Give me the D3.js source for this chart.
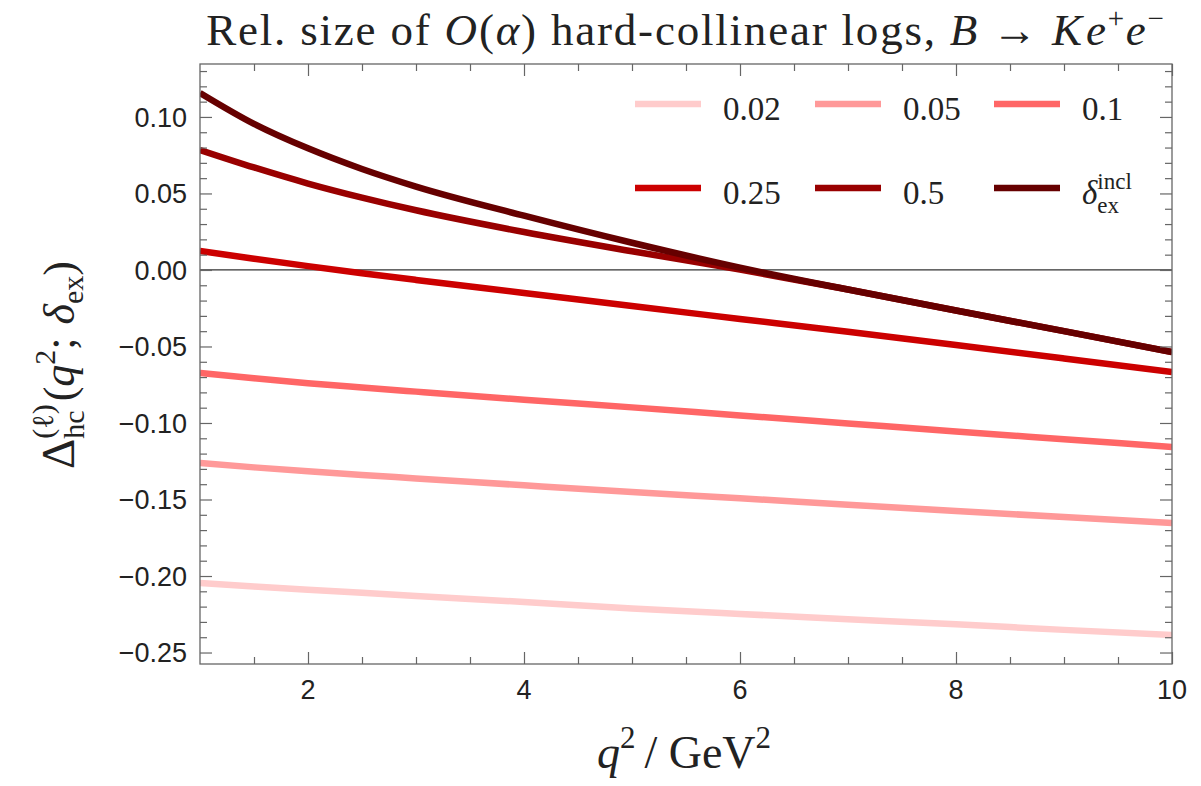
<!DOCTYPE html>
<html>
<head>
<meta charset="utf-8">
<script src="https://cdn.jsdelivr.net/npm/d3@7"></script>
<style>
  html, body { margin: 0; padding: 0; background: #fff; }
  svg { display: block; }
</style>
</head>
<body>
<svg id="chart" width="1201" height="786"></svg>
<script>
// q^2 sampling grid (GeV^2)
const q2 = [1, 1.5, 2, 2.5, 3, 4, 5, 6, 7, 8, 9, 10];

// Relative size of hard-collinear logs for each photon-energy cut δ_ex
const delta002 = [-0.2046, -0.2069, -0.2090, -0.2110, -0.2130, -0.2170, -0.2212, -0.2248, -0.2282, -0.2316, -0.2352, -0.2386];
const delta005 = [-0.1261, -0.1290, -0.1316, -0.1340, -0.1362, -0.1407, -0.1451, -0.1492, -0.1534, -0.1575, -0.1615, -0.1654];
const delta010 = [-0.0673, -0.0708, -0.0740, -0.0768, -0.0795, -0.0848, -0.0898, -0.0951, -0.1003, -0.1055, -0.1106, -0.1157];
const delta025 = [0.0124, 0.0073, 0.0025, -0.0021, -0.0065, -0.0150, -0.0236, -0.0320, -0.0404, -0.0490, -0.0578, -0.0667];
const delta050 = [0.0784, 0.0670, 0.0565, 0.0473, 0.0390, 0.0248, 0.0122, 0.0003, -0.0128, -0.0265, -0.0400, -0.0536];
const deltaIncl = [0.1157, 0.0955, 0.0795, 0.0660, 0.0545, 0.0355, 0.0178, 0.0015, -0.0128, -0.0265, -0.0400, -0.0536];

const seriesNames = ["0.02", "0.05", "0.1", "0.25", "0.5", "incl"];
const seriesValues = [delta002, delta005, delta010, delta025, delta050, deltaIncl];
const seriesColors = ["#ffcccc", "#ff9999", "#ff6666", "#cc0000", "#990000", "#660000"];

const yTickValues = [-0.25, -0.20, -0.15, -0.10, -0.05, 0.00, 0.05, 0.10];
const xTickValues = [2, 4, 6, 8, 10];

const svg = d3.select("#chart");
const plotLeft = 200, plotRight = 1172, plotTop = 64, plotBottom = 664;

const x = d3.scaleLinear().domain([1, 10]).range([plotLeft, plotRight]);
const y = d3.scaleLinear().domain([-0.2575, 0.1346]).range([plotBottom, plotTop]);

const serif = "'Liberation Serif', 'DejaVu Serif', serif";
const sans = "'Liberation Sans', Arial, sans-serif";
const frameColor = "#666";

// ---- curves ----
const line = d3.line()
  .x(d => x(d[0]))
  .y(d => y(d[1]))
  .curve(d3.curveMonotoneX);

svg.append("clipPath").attr("id", "plotclip")
  .append("rect").attr("x", plotLeft).attr("y", plotTop)
  .attr("width", plotRight - plotLeft).attr("height", plotBottom - plotTop);

// zero reference line
svg.append("line")
  .attr("x1", plotLeft).attr("x2", plotRight)
  .attr("y1", y(0)).attr("y2", y(0))
  .attr("stroke", "#333").attr("stroke-width", 1.3);

const curves = svg.append("g").attr("clip-path", "url(#plotclip)");
seriesValues.forEach((vals, i) => {
  curves.append("path")
    .datum(q2.map((q, j) => [q, vals[j]]))
    .attr("d", line)
    .attr("fill", "none")
    .attr("stroke", seriesColors[i])
    .attr("stroke-width", 6.5)
    .attr("stroke-linejoin", "round");
});

// ---- frame and inward ticks ----
const xMinor = d3.range(1.5, 10, 0.5).filter(v => !xTickValues.includes(v));
const yMinor = d3.range(-25, 14, 1).map(v => v / 100).filter(v => !yTickValues.some(t => Math.abs(t - v) < 1e-9));

function drawAxis(ax, tr) {
  const g = svg.append("g").attr("transform", tr).call(ax);
  g.select(".domain").remove();
  g.selectAll(".tick line").attr("stroke", frameColor).attr("stroke-width", 1.2);
}
drawAxis(d3.axisLeft(y).tickValues(yTickValues).tickSize(-12).tickFormat(""), `translate(${plotLeft},0)`);
drawAxis(d3.axisLeft(y).tickValues(yMinor).tickSize(-7).tickFormat(""), `translate(${plotLeft},0)`);
drawAxis(d3.axisRight(y).tickValues(yTickValues).tickSize(-12).tickFormat(""), `translate(${plotRight},0)`);
drawAxis(d3.axisRight(y).tickValues(yMinor).tickSize(-7).tickFormat(""), `translate(${plotRight},0)`);
drawAxis(d3.axisBottom(x).tickValues(xTickValues).tickSize(-12).tickFormat(""), `translate(0,${plotBottom})`);
drawAxis(d3.axisBottom(x).tickValues(xMinor).tickSize(-7).tickFormat(""), `translate(0,${plotBottom})`);
drawAxis(d3.axisTop(x).tickValues(xTickValues).tickSize(-12).tickFormat(""), `translate(0,${plotTop})`);
drawAxis(d3.axisTop(x).tickValues(xMinor).tickSize(-7).tickFormat(""), `translate(0,${plotTop})`);

svg.append("rect")
  .attr("x", plotLeft).attr("y", plotTop)
  .attr("width", plotRight - plotLeft).attr("height", plotBottom - plotTop)
  .attr("fill", "none").attr("stroke", frameColor).attr("stroke-width", 1.3);

// tick labels
const fmtY = v => (v < 0 ? "\u2212" : "") + Math.abs(v).toFixed(2);
svg.append("g").selectAll("text").data(yTickValues).join("text")
  .attr("x", 187).attr("y", d => y(d))
  .attr("dy", "0.36em")
  .attr("text-anchor", "end")
  .attr("font-family", sans).attr("font-size", 27).attr("fill", "#222")
  .text(fmtY);

svg.append("g").selectAll("text").data(xTickValues).join("text")
  .attr("x", d => x(d)).attr("y", 699)
  .attr("text-anchor", "middle")
  .attr("font-family", sans).attr("font-size", 27).attr("fill", "#222")
  .text(d => d);

// ---- math-style text helper: pieces laid out left to right ----
// piece: {t, it, size, dy, dx, after} or {stack: [piece, piece]} for sub/superscript pairs
function mathText(parent, pieces, baseSize, anchorX, anchorY, align, spacing) {
  const g = parent.append("g");
  let cx = 0;
  const put = (p, xpos) => {
    const el = g.append("text")
      .attr("x", xpos).attr("y", p.dy || 0)
      .attr("font-family", serif)
      .attr("font-size", p.size || baseSize)
      .attr("font-style", p.it ? "italic" : "normal")
      .attr("letter-spacing", spacing || 0)
      .attr("fill", "#222")
      .attr("xml:space", "preserve")
      .text(p.t);
    return el.node().getComputedTextLength();
  };
  pieces.forEach(p => {
    if (p.stack) {
      const w = Math.max(...p.stack.map(s => put(s, cx + (s.dx || 0))));
      cx += w;
    } else {
      cx += put(p, cx + (p.dx || 0)) + (p.after || 0);
    }
  });
  const shift = align === "middle" ? -cx / 2 : 0;
  g.selectAll("text").attr("x", function () { return +this.getAttribute("x") + shift; });
  g.attr("transform", `translate(${anchorX},${anchorY})`);
  return g;
}

// title
mathText(svg, [
  { t: "Rel. size of " },
  { t: "O", it: true },
  { t: "(" },
  { t: "α", it: true },
  { t: ") hard-collinear logs, " },
  { t: "B", it: true },
  { t: " → " },
  { t: "K", it: true, after: 2 },
  { t: "e", it: true },
  { t: "+", size: 29, dy: -17 },
  { t: "e", it: true },
  { t: "−", size: 29, dy: -17 }
], 45, 686, 45, "middle", 1.8);

// x-axis title
mathText(svg, [
  { t: "q", it: true },
  { t: "2", size: 31, dy: -20, after: 9 },
  { t: "/ " },
  { t: "GeV" },
  { t: "2", size: 31, dy: -20 }
], 46, 684, 768, "middle");

// y-axis title (rotated, reads bottom to top)
const yTitle = mathText(svg, [
  { t: "Δ", size: 47 },
  { stack: [
      { t: "(ℓ)", size: 30, dy: -21 },
      { t: "hc", size: 30, dy: 10 }
  ] },
  { t: "(", dx: 3, after: 3 },
  { t: "q", it: true },
  { t: "2", size: 30, dy: -19 },
  { t: "; ", after: 2 },
  { t: "δ", it: true },
  { t: "ex", size: 30, dy: 9 },
  { t: ")" }
], 44, 0, 0, "middle");
yTitle.attr("transform", "translate(74,365) rotate(-90)");

// ---- legend ----
const legendCols = [635, 815, 994];
const legendRows = [104, 188];
const legend = svg.append("g");
seriesNames.forEach((name, i) => {
  const cx = legendCols[i % 3], cy = legendRows[Math.floor(i / 3)];
  legend.append("line")
    .attr("x1", cx).attr("x2", cx + 66)
    .attr("y1", cy).attr("y2", cy)
    .attr("stroke", seriesColors[i]).attr("stroke-width", 6.5);
  if (name === "incl") {
    mathText(legend, [
      { t: "δ", it: true },
      { stack: [
          { t: "incl", size: 23, dy: -15 },
          { t: "ex", size: 23, dy: 9 }
      ] }
    ], 33, cx + 88, cy + 16, "start");
  } else {
    legend.append("text")
      .attr("x", cx + 88).attr("y", cy + 16)
      .attr("font-family", serif).attr("font-size", 33).attr("fill", "#222")
      .text(name);
  }
});
</script>
</body>
</html>
